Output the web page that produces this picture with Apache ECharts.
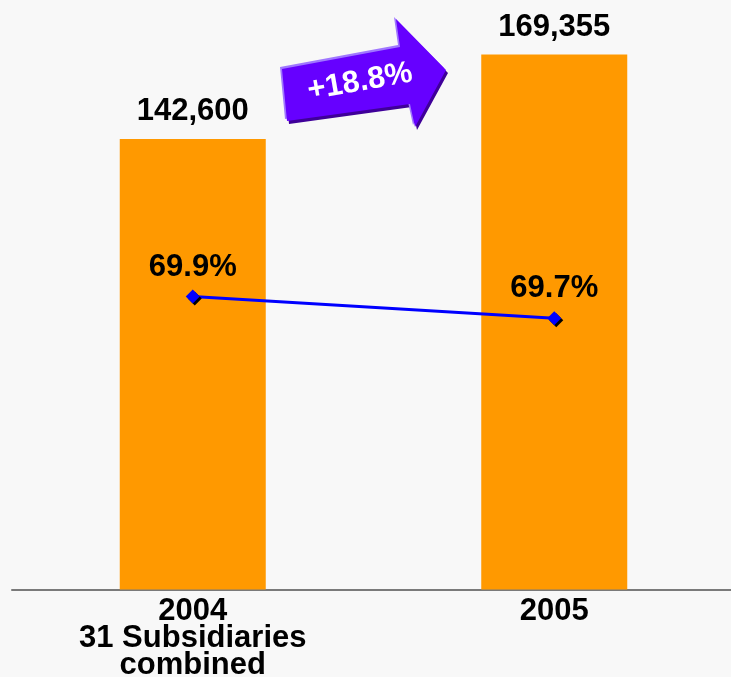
<!DOCTYPE html>
<html>
<head>
<meta charset="utf-8">
<script src="https://cdn.jsdelivr.net/npm/echarts@6/dist/echarts.min.js"></script>
<style>
  html, body { margin: 0; padding: 0; background: #f8f8f8; }
  #chart { width: 731px; height: 677px; }
</style>
</head>
<body>
<div id="chart"></div>
<script>
// Categories and values
const categories = ['2004\n31 Subsidiaries\ncombined', '2005'];
const revenue = [142600, 169355];
const shareRatio = [69.9, 69.7];
const growthLabel = '+18.8%';

const FONT = '"Liberation Sans", Arial, sans-serif';

// Growth arrow outline (decoration between the bars)
const arrowPoints = [
  [282, 69], [400, 47], [396, 19], [446, 70], [415, 127], [410, 104], [287, 121]
];
const shift = (pts, dx, dy) => pts.map(p => [p[0] + dx, p[1] + dy]);

const chart = echarts.init(document.getElementById('chart'), null, { renderer: 'canvas' });

chart.setOption({
  backgroundColor: '#f8f8f8',
  animation: false,
  grid: {
    left: 12, width: 723, top: 21, bottom: 87.5,
    containLabel: false,
    outerBoundsMode: 'none'
  },
  xAxis: {
    type: 'category',
    data: categories,
    axisTick: { show: false },
    axisLine: { show: true, lineStyle: { color: '#7a7a7a', width: 2 } },
    axisLabel: {
      interval: 0,
      margin: 8,
      color: '#000',
      fontFamily: FONT,
      fontWeight: 'bold',
      fontSize: 31,
      lineHeight: 27
    }
  },
  yAxis: [
    { type: 'value', min: 0, max: 180000, show: false, splitLine: { show: false } },
    { type: 'value', min: 67.2, max: 72.44, show: false, splitLine: { show: false } }
  ],
  series: [
    {
      type: 'bar',
      data: revenue,
      barWidth: 146,
      itemStyle: { color: '#ff9900' },
      label: {
        show: true,
        position: 'top',
        distance: 12,
        color: '#000',
        fontFamily: FONT,
        fontWeight: 'bold',
        fontSize: 31,
        formatter: p => p.value.toLocaleString('en-US')
      }
    },
    {
      type: 'line',
      yAxisIndex: 1,
      data: shareRatio,
      symbol: 'diamond',
      symbolSize: 14,
      lineStyle: { color: '#0000ff', width: 3 },
      itemStyle: {
        color: '#0000ff',
        shadowColor: '#000',
        shadowOffsetX: 2,
        shadowOffsetY: 2,
        shadowBlur: 0
      },
      label: {
        show: true,
        position: 'top',
        distance: 7,
        color: '#000',
        fontFamily: FONT,
        fontWeight: 'bold',
        fontSize: 31,
        formatter: p => p.value.toFixed(1) + '%'
      },
      z: 5
    }
  ],
  graphic: [
    {
      type: 'polygon',
      shape: { points: shift(arrowPoints, 2, 3) },
      style: { fill: '#3f0099' },
      z: 10
    },
    {
      type: 'polygon',
      shape: { points: shift(arrowPoints, -2, -2) },
      style: { fill: '#a077ff' },
      z: 11
    },
    {
      type: 'polygon',
      shape: { points: arrowPoints },
      style: { fill: '#6600ff' },
      z: 12
    },
    {
      type: 'text',
      x: 360,
      y: 82,
      rotation: 10 * Math.PI / 180,
      style: {
        text: growthLabel,
        fill: '#fff',
        font: 'bold 31px ' + FONT,
        align: 'center',
        verticalAlign: 'middle'
      },
      z: 13
    }
  ]
});
</script>
</body>
</html>
